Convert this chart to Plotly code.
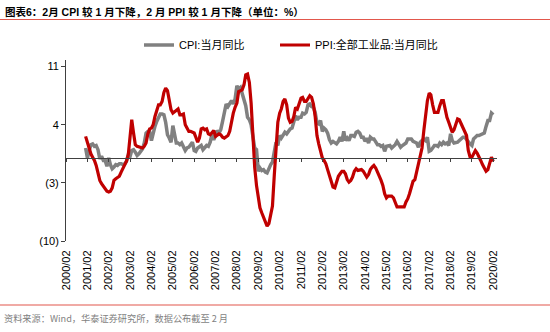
import plotly.graph_objects as go

# Monthly series, 2001/01 .. 2020/02 (year-on-year, %)
start_year, start_month, n_months = 2001, 1, 230
months = []
y, m = start_year, start_month
for _ in range(n_months):
    months.append(f"{y}-{m:02d}-01")
    m += 1
    if m > 12:
        m, y = 1, y + 1

cpi_yoy = [
    1.2, 0.0, 0.8, 1.6, 1.7, 1.4, 1.5, 1.0, -0.1, 0.2, -0.3, -0.3,      # 2001
    -1.0, 0.0, -0.8, -1.3, -1.1, -0.8, -0.9, -0.7, -0.7, -0.8, -0.7, -0.4,  # 2002
    0.4, 0.2, 0.9, 1.0, 0.7, 0.3, 0.5, 0.9, 1.1, 1.8, 3.0, 3.2,        # 2003
    3.2, 2.1, 3.0, 3.8, 4.4, 5.0, 5.3, 5.3, 5.2, 4.3, 2.8, 2.4,        # 2004
    1.9, 3.9, 2.7, 1.8, 1.8, 1.6, 1.8, 1.3, 0.9, 1.2, 1.3, 1.6,        # 2005
    1.9, 0.9, 0.8, 1.2, 1.4, 1.5, 1.0, 1.3, 1.5, 1.4, 1.9, 2.8,        # 2006
    2.2, 2.7, 3.3, 3.0, 3.4, 4.4, 5.6, 6.5, 6.2, 6.5, 6.9, 6.5,        # 2007
    7.1, 8.7, 8.3, 8.5, 7.7, 7.1, 6.3, 4.9, 4.6, 4.0, 2.4, 1.2,        # 2008
    1.0, -1.6, -1.2, -1.5, -1.4, -1.7, -1.8, -1.2, -0.8, -0.5, 0.6, 1.9,  # 2009
    1.5, 2.7, 2.4, 2.8, 3.1, 2.9, 3.3, 3.5, 3.6, 4.4, 5.1, 4.6,        # 2010
    4.9, 4.9, 5.4, 5.3, 5.5, 6.4, 6.5, 6.2, 6.1, 5.5, 4.2, 4.1,        # 2011
    4.5, 3.2, 3.6, 3.4, 3.0, 2.2, 1.8, 2.0, 1.9, 1.7, 2.0, 2.5,        # 2012
    2.0, 3.2, 2.1, 2.4, 2.1, 2.7, 2.7, 2.6, 3.1, 3.2, 3.0, 2.5,        # 2013
    2.5, 2.0, 2.4, 1.8, 2.5, 2.3, 2.3, 2.0, 1.6, 1.6, 1.4, 1.5,        # 2014
    0.8, 1.4, 1.4, 1.5, 1.2, 1.4, 1.6, 2.0, 1.6, 1.3, 1.5, 1.6,        # 2015
    1.8, 2.3, 2.3, 2.3, 2.0, 1.9, 1.8, 1.3, 1.9, 2.1, 2.3, 2.1,        # 2016
    2.5, 0.8, 0.9, 1.2, 1.5, 1.5, 1.4, 1.8, 1.6, 1.9, 1.7, 1.8,        # 2017
    1.5, 2.9, 2.1, 1.8, 1.8, 1.9, 2.1, 2.3, 2.5, 2.5, 2.2, 1.9,        # 2018
    1.7, 1.5, 2.3, 2.5, 2.7, 2.7, 2.8, 2.8, 3.0, 3.8, 4.5, 4.5,        # 2019
    5.4, 5.2,                                                          # 2020
]

ppi_yoy = [
    2.6, 1.8, 1.0, 0.5, 0.1, -0.3, -0.9, -1.7, -2.7, -3.1, -3.4, -3.8,   # 2001
    -4.0, -4.1, -4.0, -3.6, -2.7, -2.5, -2.4, -2.2, -1.7, -1.3, -0.9, -0.4,  # 2002
    0.4, 2.4, 4.6, 3.0, 1.6, 1.4, 1.3, 1.3, 1.2, 1.4, 1.8, 2.9,        # 2003
    3.5, 3.6, 4.0, 5.0, 5.7, 6.4, 6.4, 6.8, 7.9, 8.4, 8.1, 7.1,        # 2004
    5.8, 5.4, 5.6, 5.8, 5.9, 5.2, 5.2, 5.3, 4.0, 3.6, 3.2, 3.2,        # 2005
    3.1, 3.0, 2.5, 1.9, 2.4, 3.5, 3.6, 3.4, 3.5, 2.9, 2.8, 3.1,        # 2006
    3.3, 2.6, 2.7, 2.9, 2.8, 2.5, 2.4, 2.6, 2.7, 3.2, 4.6, 5.4,        # 2007
    6.1, 6.6, 8.0, 8.1, 8.2, 8.8, 10.0, 10.1, 9.1, 6.6, 2.0, -1.1,     # 2008
    -3.3, -4.5, -6.0, -6.6, -7.2, -7.8, -8.2, -7.9, -7.0, -5.8, -2.1, 1.7,  # 2009
    4.3, 5.4, 5.9, 6.8, 7.1, 6.4, 4.8, 4.3, 4.4, 5.0, 6.1, 5.9,        # 2010
    6.6, 7.2, 7.3, 6.8, 6.8, 7.1, 7.5, 7.3, 6.5, 5.0, 2.7, 1.7,        # 2011
    0.7, 0.0, -0.3, -0.7, -1.4, -2.1, -2.9, -3.5, -3.6, -2.8, -2.2, -1.9,  # 2012
    -1.6, -1.6, -1.9, -2.6, -2.9, -2.7, -2.3, -1.6, -1.3, -1.5, -1.4, -1.4,  # 2013
    -1.6, -2.0, -2.3, -2.0, -1.4, -1.1, -0.9, -1.2, -1.8, -2.2, -2.7, -3.3,  # 2014
    -4.3, -4.8, -4.6, -4.6, -4.6, -4.8, -5.4, -5.9, -5.9, -5.9, -5.9, -5.9,  # 2015
    -5.3, -4.9, -4.3, -3.4, -2.8, -2.6, -1.7, -0.8, 0.1, 1.2, 3.3, 5.5,  # 2016
    6.9, 7.8, 7.6, 6.4, 5.5, 5.5, 5.5, 6.3, 6.9, 6.9, 5.8, 4.9,        # 2017
    4.3, 3.7, 3.1, 3.4, 4.1, 4.7, 4.6, 4.1, 3.6, 3.3, 2.7, 0.9,        # 2018
    0.1, 0.1, 0.4, 0.9, 0.6, 0.0, -0.3, -0.8, -1.2, -1.6, -1.4, -0.5,  # 2019
    0.1, -0.4,                                                         # 2020
]

tick_years = list(range(2000, 2021))
tick_vals = [f"{yr}-02-01" for yr in tick_years]
tick_text = [f"{yr}/02" for yr in tick_years]

y_tick_vals = [-10, -3, 4, 11]
y_tick_text = ["(10)", "(3)", "4", "11"]
y_range = [-10, 11.8]
x_range = ["2000-02-01", "2020-04-05"]

W, H = 550, 332
L, R, T, B = 66, 53, 60, 91
PW, PH = W - L - R, H - T - B


def px(x):
    return (x - L) / PW


def py(y):
    return 1 - (y - T) / PH


CJK = "Liberation Sans, Arial, Noto Sans CJK SC"
ACCENT = "#E2574C"

fig = go.Figure()
fig.add_trace(go.Scatter(
    x=months, y=cpi_yoy, mode="lines", name="CPI:当月同比",
    line=dict(color="#808080", width=3.5), legend="legend",
))
fig.add_trace(go.Scatter(
    x=months, y=ppi_yoy, mode="lines", name="PPI:全部工业品:当月同比",
    line=dict(color="#C00000", width=3.2), legend="legend2",
))
# Placeholder trace so the zero-crossing axis (x2) is rendered
fig.add_trace(go.Scatter(
    x=[months[0]], y=[None], xaxis="x2", mode="lines",
    showlegend=False, hoverinfo="skip",
))

zero_pos = (0 - y_range[0]) / (y_range[1] - y_range[0])

legend_style = dict(
    orientation="h", xanchor="left", yanchor="middle",
    font=dict(family=CJK, size=11, color="#000000"),
    bgcolor="rgba(0,0,0,0)", borderwidth=0,
)

fig.update_layout(
    width=W, height=H,
    margin=dict(l=L, r=R, t=T, b=B, pad=0),
    paper_bgcolor="white", plot_bgcolor="white",
    font=dict(family=CJK, size=11, color="#000000"),
    showlegend=True,
    legend=dict(x=px(139), y=py(45), **legend_style),
    legend2=dict(x=px(275), y=py(45), **legend_style),
    xaxis=dict(
        type="date", range=x_range, tickmode="array",
        tickvals=tick_vals, ticktext=tick_text, tickangle=-90,
        ticks="outside", ticklen=4, tickcolor="rgba(0,0,0,0)",
        showline=False, showgrid=False, zeroline=False,
        tickfont=dict(family="Liberation Sans, Arial", size=11, color="#000000"),
    ),
    xaxis2=dict(
        type="date", range=x_range, overlaying="x", anchor="free",
        position=zero_pos, side="bottom", tickmode="array",
        tickvals=tick_vals, showticklabels=False,
        ticks="outside", ticklen=3, tickwidth=1, tickcolor="#404040",
        showline=True, linecolor="#404040", linewidth=1,
        showgrid=False, zeroline=False,
    ),
    yaxis=dict(
        range=y_range, tickmode="array", tickvals=y_tick_vals,
        ticktext=y_tick_text, ticks="outside", ticklen=4, tickcolor="#404040",
        showline=True, linecolor="#404040", linewidth=1,
        showgrid=False, zeroline=False,
        tickfont=dict(family="Liberation Sans, Arial", size=11, color="#000000"),
    ),
)

# Title, rules and source note
fig.add_annotation(
    xref="paper", yref="paper", x=px(3), y=py(11.5), xanchor="left", yanchor="middle",
    text="<b>图表6：2月 CPI 较 1 月下降，2 月 PPI 较 1 月下降（单位：%）</b>",
    showarrow=False,
    font=dict(family="Liberation Sans, Arial, Noto Sans CJK SC", size=10.5, color="#000000"),
)
fig.add_shape(type="line", xref="paper", yref="paper",
              x0=px(0), x1=px(550), y0=py(19.5), y1=py(19.5),
              line=dict(color=ACCENT, width=1.2))
fig.add_shape(type="line", xref="paper", yref="paper",
              x0=px(0), x1=px(550), y0=py(305), y1=py(305),
              line=dict(color=ACCENT, width=1.2))
fig.add_annotation(
    xref="paper", yref="paper", x=px(2), y=py(317.5), xanchor="left", yanchor="middle",
    text="资料来源：Wind，华泰证券研究所，数据公布截至 2 月",
    showarrow=False, font=dict(family="Noto Sans CJK SC", size=9.2, color="#7F7F7F"),
)

fig.write_html("out.html")
